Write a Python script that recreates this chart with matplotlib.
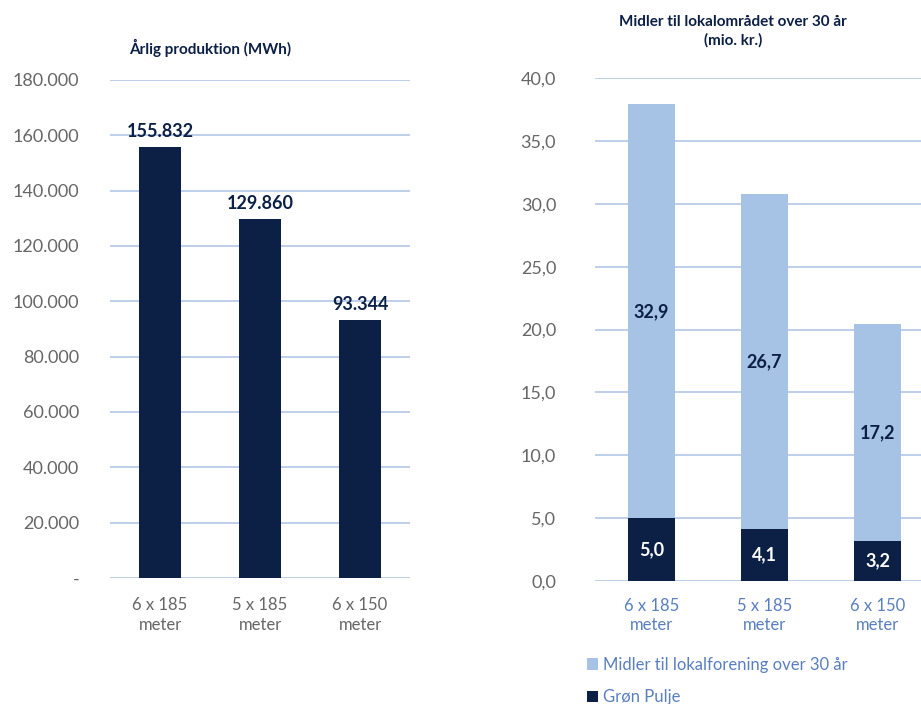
import matplotlib
matplotlib.use("Agg")
import matplotlib.pyplot as plt

plt.rcParams['font.family'] = ['Lato', 'DejaVu Sans']

categories = ["6 x 185\nmeter", "5 x 185\nmeter", "6 x 150\nmeter"]
production = [155832, 129860, 93344]
production_labels = ["155.832", "129.860", "93.344"]
gron_pulje = [5.0, 4.1, 3.2]
lokalforening = [32.9, 26.7, 17.2]
left_yticks = [0, 20000, 40000, 60000, 80000, 100000, 120000, 140000, 160000, 180000]
left_yticklabels = ["-", "20.000", "40.000", "60.000", "80.000", "100.000", "120.000", "140.000", "160.000", "180.000"]
right_yticks = [0, 5, 10, 15, 20, 25, 30, 35, 40]
right_yticklabels = ["0,0", "5,0", "10,0", "15,0", "20,0", "25,0", "30,0", "35,0", "40,0"]

NAVY = "#0c1f45"
LIGHT = "#a6c3e5"
GRID = "#b4c7e7"
GRAY = "#666666"
BLUE = "#5a7fbf"

fig = plt.figure(figsize=(9.21, 7.04), dpi=100)

# Left chart
ax1 = fig.add_axes([110/921, 1-578/704, 300/921, (578-80)/704])
x = range(len(categories))
ax1.bar(x, production, width=0.42, color=NAVY, zorder=3)
ax1.set_xlim(-0.5, 2.5)
ax1.set_ylim(0, 180000)
ax1.set_yticks(left_yticks)
ax1.set_yticklabels(left_yticklabels, fontsize=13, color=GRAY)
ax1.set_xticks(list(x))
ax1.set_xticklabels(categories, fontsize=12, color=GRAY, linespacing=1.25)
ax1.tick_params(length=0, pad=14)
ax1.tick_params(axis='y', pad=22)
for s in ax1.spines.values():
    s.set_visible(False)
ax1.yaxis.grid(True, color=GRID, linewidth=1.2, zorder=0)
ax1.set_axisbelow(True)
for xi, v, lab in zip(x, production, production_labels):
    ax1.annotate(lab, (xi, v), xytext=(0, 5), textcoords="offset points",
                 ha="center", va="bottom", fontsize=13, fontweight="bold", color=NAVY)
fig.text(210/921, 1-48/704, "Årlig produktion (MWh)", fontsize=11, fontweight="bold",
         color=NAVY, ha="center", va="center")

# Right chart
ax2 = fig.add_axes([595/921, 1-581/704, 339/921, (581-78)/704])
ax2.bar(x, gron_pulje, width=0.41, color=NAVY, zorder=3, label="Grøn Pulje")
ax2.bar(x, lokalforening, width=0.41, bottom=gron_pulje, color=LIGHT, zorder=3,
        label="Midler til lokalforening over 30 år")
ax2.set_xlim(-0.5, 2.5)
ax2.set_ylim(0, 40)
ax2.set_yticks(right_yticks)
ax2.set_yticklabels(right_yticklabels, fontsize=13, color=GRAY)
ax2.set_xticks(list(x))
ax2.set_xticklabels(categories, fontsize=12, color=BLUE, linespacing=1.25)
ax2.tick_params(length=0, pad=12)
ax2.tick_params(axis='y', pad=28)
for s in ax2.spines.values():
    s.set_visible(False)
ax2.yaxis.grid(True, color=GRID, linewidth=1.2, zorder=0)
ax2.set_axisbelow(True)
for xi, g, l in zip(x, gron_pulje, lokalforening):
    ax2.text(xi, g / 2, f"{g:.1f}".replace(".", ","), ha="center", va="center",
             fontsize=13, fontweight="bold", color="white", zorder=4)
    ax2.text(xi, g + l / 2, f"{l:.1f}".replace(".", ","), ha="center", va="center",
             fontsize=13, fontweight="bold", color=NAVY, zorder=4)
fig.text(733/921, 1-31/704, "Midler til lokalområdet over 30 år\n(mio. kr.)", fontsize=11,
         fontweight="bold", color=NAVY, ha="center", va="center", linespacing=1.35)

# Legend
handles, labels = ax2.get_legend_handles_labels()
leg = fig.legend(handles[::-1], labels[::-1], loc="upper left",
                 bbox_to_anchor=(580/921, 1-650/704), frameon=False, fontsize=12,
                 handlelength=0.7, handleheight=0.7, handletextpad=0.3,
                 labelspacing=1.0, borderaxespad=0)
for t in leg.get_texts():
    t.set_color(BLUE)

fig.savefig("out.png", dpi=100, facecolor="white")
